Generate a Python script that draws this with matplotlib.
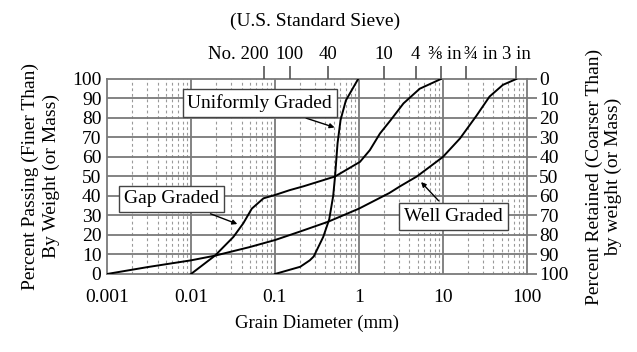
import numpy as np
import matplotlib
matplotlib.use('Agg')
from matplotlib import pyplot as plt
from matplotlib.transforms import ScaledTranslation

plt.rcParams['font.family'] = ['Liberation Serif', 'DejaVu Serif']

# grain size curves (diameter mm, percent passing)
well_d = [0.001, 0.003, 0.01, 0.0193, 0.05, 0.1, 0.2, 0.43, 1.0, 2.3, 3.1, 4.9, 10, 16, 25, 36, 52, 75]
well_p = [0, 3.5, 7, 9.4, 13.8, 17.4, 21.8, 26.8, 33.5, 41.5, 45, 50, 60, 69.5, 81, 91, 97, 100]

gap_d = [0.01, 0.0193, 0.032, 0.042, 0.053, 0.073, 0.1, 0.15, 0.22, 0.52, 1.03, 1.35, 1.78, 2.4, 3.4, 5.3, 9.5]
gap_p = [0, 9.4, 19, 26, 33.5, 38.8, 40.5, 43, 45, 50, 57.5, 63.5, 72, 79, 87.5, 95, 100]

uni_d = [0.1, 0.2, 0.26, 0.29, 0.376, 0.443, 0.494, 0.52, 0.557, 0.605, 0.70, 0.98]
uni_p = [0, 3.7, 7, 9, 19, 28, 40, 50, 67, 79, 89, 100]

# US standard sieves
sieve_mm = [0.075, 0.15, 0.425, 2.0, 4.75, 9.5, 19, 75]
sieve_lbl = ['No. 200', '100', '40', '10', '4', '⅜ in', '¾ in', '3 in']

passing_ticks = list(range(0, 101, 10))
x_ticks = [0.001, 0.01, 0.1, 1, 10, 100]
x_lbl = ['0.001', '0.01', '0.1', '1', '10', '100']

fig = plt.figure(figsize=(6.37, 3.52), dpi=100)
ax = fig.add_axes([0.168, 0.2216, 0.659, 0.554])
ax.set_xscale('log')
ax.set_xlim(0.001, 100)
ax.set_ylim(0, 100)

grid_c = '#7a7a7a'
# minor dashed verticals
for dec in [0.001, 0.01, 0.1, 1, 10]:
    for m in range(2, 10):
        ax.axvline(dec * m, color='#9a9a9a', lw=0.8, ls=(0, (2.5, 2.5)), zorder=1)
for v in [0.01, 0.1, 1, 10]:
    ax.axvline(v, color=grid_c, lw=1.3, zorder=1)
for h in passing_ticks[1:-1]:
    ax.axhline(h, color=grid_c, lw=1.3, zorder=1)

ax.plot(well_d, well_p, color='black', lw=1.4, zorder=3)
ax.plot(gap_d, gap_p, color='black', lw=1.4, zorder=3)
ax.plot(uni_d, uni_p, color='black', lw=1.4, zorder=3)

for s in ax.spines.values():
    s.set_color(grid_c)
    s.set_linewidth(1.3)

ax.set_xticks(x_ticks)
ax.set_xticklabels(x_lbl)
ax.minorticks_off()
ax.set_yticks(passing_ticks)
ax.tick_params(axis='both', length=0, labelsize=14)
ax.tick_params(axis='x', pad=11)
ax.tick_params(axis='y', pad=4)
ax.set_xlabel('Grain Diameter (mm)', fontsize=13.5, labelpad=6)
ax.set_ylabel('Percent Passing (Finer Than)\nBy Weight (or Mass)', fontsize=14, labelpad=9, linespacing=1.25)

axr = ax.twinx()
axr.set_ylim(100, 0)
axr.set_yticks(passing_ticks)
axr.tick_params(axis='y', direction='out', length=7, width=1.3, color=grid_c, labelsize=14, pad=2)
axr.set_ylabel('Percent Retained (Coarser Than)\nby weight (or Mass)', fontsize=14, labelpad=12, linespacing=1.15)
for s in axr.spines.values():
    s.set_visible(False)

axt = ax.twiny()
axt.set_xscale('log')
axt.set_xlim(0.001, 100)
axt.set_xticks(sieve_mm)
axt.set_xticklabels(sieve_lbl)
axt.minorticks_off()
axt.tick_params(axis='x', direction='out', length=9.5, width=1.2, color='#555555', labelsize=13.5, pad=2)
for s in axt.spines.values():
    s.set_visible(False)
# nudge crowded sieve labels like the original
shifts = {'No. 200': ('right', 4), '⅜ in': ('left', -13), '¾ in': ('left', -2)}
for lab in axt.get_xticklabels():
    t = lab.get_text()
    if t in shifts:
        ha, dx = shifts[t]
        lab.set_ha(ha)
        lab.set_transform(lab.get_transform() + ScaledTranslation(dx / 100, 0, fig.dpi_scale_trans))
fig.text(0.495, 0.94, '(U.S. Standard Sieve)', ha='center', va='center', fontsize=14)

box = dict(boxstyle='square,pad=0.25', fc='white', ec='#444444', lw=1.0)
arrow = dict(arrowstyle='-|>', color='black', lw=1.0, mutation_scale=7)
ax.annotate('Uniformly Graded', xy=(0.552, 74.7), xytext=(0.066, 87.7), fontsize=14,
            ha='center', va='center', bbox=box, arrowprops=arrow, zorder=5)
ax.annotate('Gap Graded', xy=(0.0383, 25.1), xytext=(0.0059, 38.5), fontsize=14,
            ha='center', va='center', bbox=box, arrowprops=arrow, zorder=5)
ax.annotate('Well Graded', xy=(5.22, 48.2), xytext=(13.4, 29.4), fontsize=14,
            ha='center', va='center', bbox=box, arrowprops=arrow, zorder=5)

fig.savefig('out.png', dpi=100)
